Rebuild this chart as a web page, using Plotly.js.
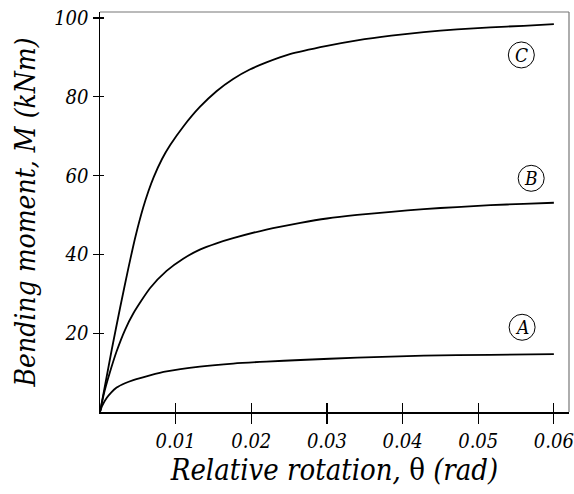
<!DOCTYPE html>
<html>
<head>
<meta charset="utf-8">
<script src="https://cdn.plot.ly/plotly-3.0.1.min.js"></script>
<style>html,body{margin:0;padding:0;background:#fff;}#chart{width:574px;height:494px;}</style>
</head>
<body>
<div id="chart"></div>
<script>
// Curve C
const xC = [0, 0.00155, 0.00265, 0.00375, 0.0043, 0.0047, 0.0057, 0.0064, 0.0071, 0.0082, 0.0093, 0.0110, 0.0132, 0.0154, 0.0176, 0.0198, 0.0220, 0.0251, 0.0300, 0.0340, 0.0385, 0.0428, 0.0472, 0.0516, 0.0560, 0.0600];
const yC = [0, 15.8, 26.4, 36.5, 41.3, 44.6, 51.8, 56.0, 59.6, 64.2, 67.8, 72.4, 77.4, 81.4, 84.5, 86.9, 88.7, 90.8, 92.9, 94.3, 95.5, 96.4, 97.1, 97.6, 98.0, 98.4];
// Curve B
const xB = [0, 0.0005, 0.0013, 0.0022, 0.0033, 0.0044, 0.0066, 0.0088, 0.0110, 0.0132, 0.0154, 0.0176, 0.0220, 0.0265, 0.0300, 0.0340, 0.0385, 0.0428, 0.0472, 0.0516, 0.0560, 0.0600];
const yB = [0, 4.5, 10.0, 15.4, 20.8, 25.0, 31.4, 35.8, 38.9, 41.2, 42.8, 44.1, 46.3, 48.0, 49.1, 50.0, 50.8, 51.5, 52.0, 52.5, 52.8, 53.1];
// Curve A
const xA = [0, 0.0003, 0.0009, 0.0015, 0.0022, 0.0033, 0.0044, 0.0066, 0.0088, 0.0132, 0.0176, 0.0220, 0.0265, 0.0340, 0.0428, 0.0516, 0.0600];
const yA = [0, 1.6, 3.6, 5.0, 6.2, 7.3, 8.1, 9.3, 10.3, 11.5, 12.3, 12.8, 13.2, 13.8, 14.3, 14.5, 14.7];

const labelText = ["A", "B", "C"];
const labelX = [0.0558, 0.0570, 0.0557];
const labelY = [21.5, 59.3, 90.6];

const xTickVals = [0.01, 0.02, 0.03, 0.04, 0.05, 0.06];
const xTickText = ["0.01", "0.02", "0.03", "0.04", "0.05", "0.06"];
const yTickVals = [20, 40, 60, 80, 100];
const yTickText = ["20", "40", "60", "80", "100"];

const serif = "DejaVu Serif Condensed, DejaVu Serif";
const it = s => "<i>" + s + "</i>";
const lineStyle = {color: "#000", width: 1.8, shape: "spline", smoothing: 0.6};

const traces = [
  {x: xA, y: yA, mode: "lines", line: lineStyle, hoverinfo: "none"},
  {x: xB, y: yB, mode: "lines", line: lineStyle, hoverinfo: "none"},
  {x: xC, y: yC, mode: "lines", line: lineStyle, hoverinfo: "none"},
  {x: [0], y: [0], xaxis: "x2", yaxis: "y2", mode: "markers", marker: {opacity: 0}, hoverinfo: "none"}
];

const annotations = labelText.map((t, i) => ({
  x: labelX[i], y: labelY[i], xref: "x", yref: "y",
  text: it(t), showarrow: false,
  font: {family: serif, size: 19, color: "#000"}
}));
const shapes = labelText.map((t, i) => ({
  type: "circle", xref: "x", yref: "y",
  xsizemode: "pixel", ysizemode: "pixel",
  xanchor: labelX[i], yanchor: labelY[i],
  x0: -13, x1: 13, y0: -13, y1: 13,
  line: {color: "#000", width: 1}
}));
shapes.push({type: "line", xref: "paper", yref: "paper", x0: 0, x1: 1, y0: 1, y1: 1, line: {color: "#777", width: 1.2}});
shapes.push({type: "line", xref: "paper", yref: "paper", x0: 1, x1: 1, y0: 0, y1: 1, line: {color: "#777", width: 1.2}});

const layout = {
  width: 574, height: 494,
  margin: {l: 100, r: 5, t: 12, b: 82},
  paper_bgcolor: "#fff", plot_bgcolor: "#fff",
  showlegend: false,
  font: {family: serif, color: "#000"},
  xaxis: {
    range: [0, 0.062], showgrid: false, zeroline: false,
    showline: true, linecolor: "#000", linewidth: 1.5,
    ticks: "outside", ticklen: 10, tickwidth: 1.2, tickcolor: "#000",
    tickvals: xTickVals, ticktext: xTickText.map(it),
    tickfont: {family: serif, size: 20, color: "#000"},
    title: {text: it("Relative rotation, ") + "θ" + it(" (rad)"), standoff: 8,
            font: {family: serif, size: 29, color: "#000"}}
  },
  yaxis: {
    range: [0, 101.5], showgrid: false, zeroline: false,
    showline: true, linecolor: "#000", linewidth: 1.5,
    ticks: "outside", ticklen: 6, tickwidth: 1.2, tickcolor: "#000",
    tickvals: yTickVals, ticktext: yTickText.map(it),
    tickfont: {family: serif, size: 20, color: "#000"},
    title: {text: it("Bending moment, M (kNm)"), standoff: 10,
            font: {family: serif, size: 28, color: "#000"}}
  },
  xaxis2: {
    overlaying: "x", matches: "x", range: [0, 0.062], showgrid: false, zeroline: false,
    ticks: "inside", ticklen: 9, tickwidth: 1.2, tickcolor: "#000",
    tickvals: xTickVals, showticklabels: false, anchor: "y2"
  },
  yaxis2: {
    overlaying: "y", matches: "y", range: [0, 101.5], showgrid: false, zeroline: false,
    ticks: "inside", ticklen: 4, tickwidth: 1.2, tickcolor: "#000",
    tickvals: yTickVals, showticklabels: false, anchor: "x2"
  },
  annotations: annotations,
  shapes: shapes
};

Plotly.newPlot("chart", traces, layout, {staticPlot: true, displayModeBar: false});
</script>
</body>
</html>
